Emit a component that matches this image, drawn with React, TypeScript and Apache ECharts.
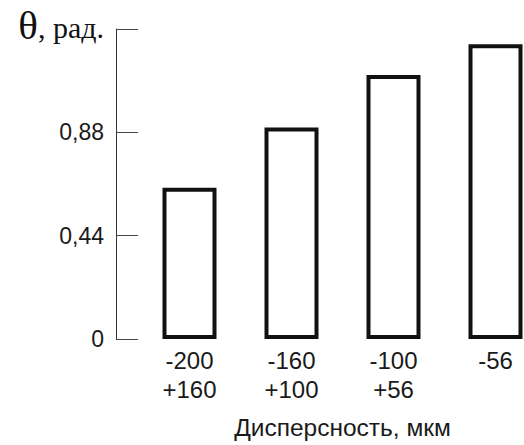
import React, { useEffect, useRef } from "react";
import * as echarts from "echarts";

const categories: string[] = ["-200\n+160", "-160\n+100", "-100\n+56", "-56"];
const thetaValues: number[] = [0.644, 0.901, 1.124, 1.255];
const yMin = 0;
const yMax = 1.32;
const yInterval = 0.44;
const yAxisTitle = "θ";
const yAxisUnit = ", рад.";
const xAxisTitle = "Дисперсность, мкм";

export default function App() {
  const ref = useRef<HTMLDivElement>(null);
  useEffect(() => {
    if (!ref.current) return;
    const chart = echarts.init(ref.current, undefined, { renderer: "svg" });
    chart.setOption({
      animation: false,
      backgroundColor: "#ffffff",
      grid: { left: 138.5, right: 1.5, top: 29, bottom: 102, containLabel: false },
      xAxis: {
        type: "category",
        data: categories,
        axisLine: { show: false },
        axisTick: { show: false },
        axisLabel: {
          interval: 0,
          margin: 7,
          color: "#1a1a1a",
          fontFamily: "'Liberation Sans', Arial, sans-serif",
          fontSize: 24,
          lineHeight: 29,
        },
        name: xAxisTitle,
        nameLocation: "middle",
        nameGap: 76,
        nameTextStyle: {
          color: "#1a1a1a",
          fontFamily: "'Liberation Sans', Arial, sans-serif",
          fontSize: 24.5,
        },
      },
      yAxis: {
        type: "value",
        min: yMin,
        max: yMax,
        interval: yInterval,
        offset: 22.5,
        splitLine: { show: false },
        axisLine: { show: true, lineStyle: { color: "#333", width: 1 } },
        axisTick: { show: true, inside: true, length: 22, lineStyle: { color: "#444", width: 1 } },
        axisLabel: {
          margin: 12,
          color: "#1a1a1a",
          fontFamily: "'Liberation Sans', Arial, sans-serif",
          fontSize: 23,
          formatter: (v: number) =>
            Math.abs(v - yMax) < 1e-6
              ? `{t|${yAxisTitle}}{u|${yAxisUnit}}`
              : String(Math.round(v * 100) / 100).replace(".", ","),
          rich: {
            t: {
              fontFamily: "'Liberation Serif', 'DejaVu Serif', serif",
              fontSize: 41,
              color: "#111",
              padding: [0, 0, 8, 0],
            },
            u: {
              fontFamily: "'Liberation Serif', 'DejaVu Serif', serif",
              fontSize: 30,
              color: "#111",
              padding: [0, 0, 4, 0],
            },
          },
        },
      },
      series: [
        {
          type: "bar",
          data: thetaValues,
          barWidth: 54,
          itemStyle: { color: "#ffffff", borderColor: "#111", borderWidth: 4 },
          silent: true,
        },
      ],
    });
    return () => chart.dispose();
  }, []);
  return (
    <div
      ref={ref}
      style={{ position: "fixed", left: 0, top: 0, width: 548, height: 445 }}
    />
  );
}
